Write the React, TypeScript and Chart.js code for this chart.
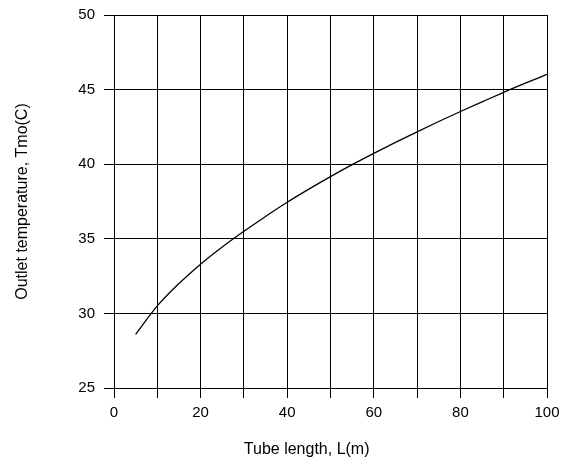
import React, { useEffect, useRef } from "react";
import { Chart, registerables } from "chart.js";

Chart.register(...registerables);

const tubeLength = [5, 10, 15, 20, 25, 30, 35, 40, 45, 50, 55, 60, 65, 70, 75, 80, 85, 90, 95, 100];
const outletTemp = [
  28.6, 30.5, 32.0, 33.3, 34.45, 35.5, 36.5, 37.45, 38.33, 39.17,
  39.97, 40.73, 41.46, 42.17, 42.86, 43.53, 44.18, 44.82, 45.43, 46.02,
];

const xTitle = "Tube length, L(m)";
const yTitle = "Outlet temperature, Tmo(C)";
const FONT = "'Liberation Sans', Arial, Helvetica, sans-serif";

const xTitlePlugin = {
  id: "xTitlePlugin",
  afterDraw(chart: any) {
    const { ctx, chartArea } = chart;
    ctx.save();
    ctx.font = `16px ${FONT}`;
    ctx.fillStyle = "#000";
    ctx.textAlign = "center";
    ctx.textBaseline = "middle";
    const x = chartArea.left + (chartArea.right - chartArea.left) * 0.445;
    ctx.fillText(xTitle, x, chart.height - 14);
    ctx.restore();
  },
};

export default function App() {
  const ref = useRef<HTMLCanvasElement>(null);
  useEffect(() => {
    if (!ref.current) return;
    const chart = new Chart(ref.current, {
      type: "line",
      data: {
        datasets: [
          {
            data: tubeLength.map((x, i) => ({ x, y: outletTemp[i] })),
            borderColor: "#000",
            borderWidth: 1.3,
            pointRadius: 0,
            cubicInterpolationMode: "monotone",
            fill: false,
          },
        ],
      },
      options: {
        animation: false,
        responsive: false,
        layout: { padding: { top: 15, right: 16, left: 0, bottom: 0 } },
        plugins: { legend: { display: false }, tooltip: { enabled: false } },
        scales: {
          x: {
            type: "linear",
            min: 0,
            max: 100,
            afterFit(scale: any) {
              scale.height = 76;
              scale.paddingLeft = 0;
              scale.paddingRight = 0;
            },
            ticks: {
              stepSize: 10,
              autoSkip: false,
              maxRotation: 0,
              padding: 6,
              color: "#000",
              font: { size: 15, family: FONT },
              callback: (v: any) => (Number(v) % 20 === 0 ? String(v) : ""),
            },
            grid: { color: "#000", lineWidth: 1, tickLength: 10, tickColor: "#000" },
            border: { color: "#000", width: 1 },
            title: { display: false },
          },
          y: {
            min: 25,
            max: 50,
            afterFit(scale: any) {
              scale.width = 114;
              scale.paddingTop = 0;
              scale.paddingBottom = 0;
            },
            ticks: {
              stepSize: 5,
              padding: 9,
              color: "#000",
              font: { size: 15, family: FONT },
            },
            grid: { color: "#000", lineWidth: 1, tickLength: 10, tickColor: "#000" },
            border: { color: "#000", width: 1 },
            title: {
              display: true,
              text: yTitle,
              color: "#000",
              font: { size: 16, family: FONT },
              padding: { top: 13, bottom: 0 },
            },
          },
        },
      },
      plugins: [xTitlePlugin],
    });
    return () => chart.destroy();
  }, []);
  return (
    <div style={{ position: "absolute", left: 0, top: 0, width: 563, height: 464, background: "#fff" }}>
      <canvas ref={ref} width={563} height={464} style={{ display: "block" }} />
    </div>
  );
}
